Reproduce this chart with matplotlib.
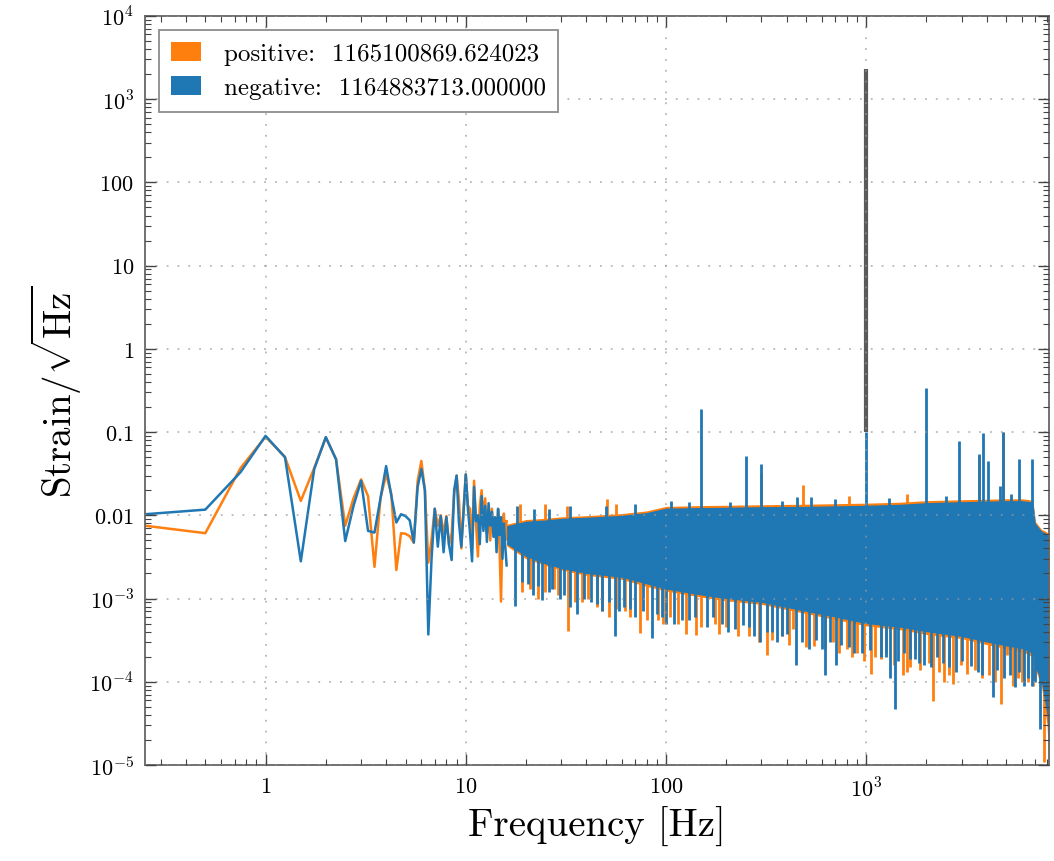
import numpy as np
import matplotlib
matplotlib.use("Agg")
import matplotlib.pyplot as plt
from matplotlib.patches import Patch
from matplotlib.ticker import LogLocator, NullFormatter

# Computer Modern look (gwpy-like style)
plt.rcParams.update({
    "mathtext.fontset": "cm",
    "font.family": "cmr10",
    "axes.unicode_minus": False,
})

# --- data ------------------------------------------------------------------
# low-frequency bins (0.25 Hz spacing), 0.25 .. 16 Hz
freq_low = np.arange(0.25, 16.01, 0.25)

neg_low = [0.0103, 0.0117, 0.033, 0.090, 0.050, 0.0028, 0.036, 0.087,
           0.047, 0.0049, 0.013, 0.026, 0.0065, 0.0062, 0.016, 0.039,
           0.017, 0.0082, 0.0103, 0.0098, 0.0087, 0.0047, 0.022, 0.036,
           0.020, 0.00037, 0.0031, 0.012, 0.0042, 0.0098, 0.0036, 0.0095,
           0.0044, 0.0029, 0.020, 0.030, 0.008, 0.0042, 0.011, 0.031,
           0.012, 0.0062, 0.0028, 0.022, 0.0085, 0.0100, 0.0045, 0.017,
           0.0065, 0.013, 0.0048, 0.014, 0.0075, 0.011, 0.0055, 0.0095,
           0.0036, 0.012, 0.0058, 0.0095, 0.0030, 0.0080, 0.0042, 0.0025]

pos_low = [0.0075, 0.0061, 0.037, 0.088, 0.050, 0.0149, 0.037, 0.086,
           0.047, 0.0075, 0.016, 0.027, 0.017, 0.0024, 0.016, 0.031,
           0.018, 0.0022, 0.0061, 0.0060, 0.0056, 0.0047, 0.026, 0.045,
           0.020, 0.0027, 0.0052, 0.012, 0.0075, 0.010, 0.006, 0.0098,
           0.0044, 0.0060, 0.018, 0.030, 0.015, 0.0040, 0.012, 0.031,
           0.013, 0.012, 0.0040, 0.026, 0.008, 0.0032, 0.013, 0.020,
           0.0085, 0.016, 0.0060, 0.011, 0.0050, 0.012, 0.0070, 0.0085,
           0.0055, 0.0115, 0.0040, 0.00092, 0.0070, 0.0105, 0.0050, 0.0085]

# dense part of the spectrum: envelope of the noise band
band_f = [16, 20, 25, 30, 40, 60, 80, 100, 150, 200, 300, 500, 700, 1000,
          1500, 2000, 3000, 4000, 5000, 6000, 6800, 7000, 7500, 8000, 8192]
neg_top = [0.0075, 0.0085, 0.0088, 0.0092, 0.0095, 0.0100, 0.0108, 0.0122,
           0.0124, 0.0125, 0.0127, 0.0128, 0.0130, 0.0132, 0.0136, 0.0142,
           0.0146, 0.0148, 0.0150, 0.0150, 0.0145, 0.0080, 0.0065, 0.0060,
           0.0055]
neg_bot = [0.0045, 0.0032, 0.0026, 0.0023, 0.0020, 0.0018, 0.0015, 0.0013,
           0.0011, 0.0010, 0.0009, 0.0007, 0.0006, 0.0005, 0.00045, 0.0004,
           0.00035, 0.0003, 0.00027, 0.00025, 0.00022, 0.00015, 0.0001,
           0.00004, 0.000015]
pos_top = [0.0078, 0.0089, 0.0092, 0.0096, 0.0099, 0.0105, 0.0113, 0.0128,
           0.0131, 0.0132, 0.0134, 0.0136, 0.0138, 0.0140, 0.0144, 0.0150,
           0.0154, 0.0156, 0.0158, 0.0158, 0.0152, 0.0084, 0.0068, 0.0063,
           0.0058]
pos_bot = [0.0043, 0.0030, 0.0025, 0.0022, 0.0019, 0.0017, 0.0014, 0.00123,
           0.00104, 0.00094, 0.00085, 0.00066, 0.00056, 0.00047, 0.00042,
           0.00037, 0.00033, 0.00028, 0.00025, 0.00023, 0.0002, 0.00014,
           0.00009, 0.00003, 0.000011]

# spikes sticking out of the band
neg_dn_f = [17.7, 20.5, 21.7, 24, 27, 29.5, 35.9, 42, 48, 55.7,
            62, 66, 84.9, 95, 110, 130, 171, 220, 242, 294,
            340, 380, 446, 520, 620, 706, 820, 950, 1180, 1310,
            1390, 1650, 1830, 2100, 2420, 2800, 3340, 3800, 4300, 4900,
            5520, 6170, 6700, 7400,
            19, 23, 26, 31, 33, 39, 45, 52, 58, 70,
            77, 90, 100, 120, 140, 160, 190, 205, 260, 275,
            320, 360, 400, 480, 560, 600, 660, 750, 870, 1050,
            1250, 1450, 1550, 1750, 1950, 2250, 2600, 3000, 3600, 4500,
            5200, 5800, 6400, 7000]
neg_dn_v = [8.2e-4, 1.5e-3, 1.1e-3, 9.5e-4, 1.3e-3, 1.0e-3, 6.5e-4, 9e-4, 7e-4, 3.5e-4,
            8e-4, 7.5e-4, 3.4e-4, 6e-4, 5e-4, 5.5e-4, 6e-4, 4.3e-4, 4.8e-4, 3.0e-4,
            4e-4, 3.5e-4, 1.6e-4, 2.5e-4, 1.2e-4, 1.6e-4, 2.6e-4, 2.2e-4, 2e-4, 1.1e-4,
            4.7e-5, 1.9e-4, 1.7e-4, 1.5e-4, 1.7e-4, 1.3e-4, 1.56e-4, 1.2e-4, 6.5e-5, 1.1e-4,
            8.6e-5, 9e-5, 9e-5, 2.7e-5,
            1.6e-3, 1.4e-3, 1.2e-3, 1.1e-3, 8e-4, 1.0e-3, 8.5e-4, 9e-4, 7e-4, 6e-4,
            7e-4, 6.5e-4, 5e-4, 5.5e-4, 6e-4, 4.5e-4, 5e-4, 4e-4, 4.5e-4, 3.5e-4,
            4e-4, 3e-4, 3.8e-4, 3e-4, 3.2e-4, 2.5e-4, 3e-4, 2.8e-4, 2.2e-4, 2.4e-4,
            2.0e-4, 1.8e-4, 2.2e-4, 1.9e-4, 1.6e-4, 2.0e-4, 1.5e-4, 1.8e-4, 1.3e-4, 1.4e-4,
            1.2e-4, 1.3e-4, 1.1e-4, 1.0e-4]
pos_dn_f = [19, 23, 27.5, 32.5, 38, 45, 52, 62.5, 74, 91.6,
            105, 126, 141, 175, 200, 260, 318, 380, 432, 550,
            680, 800, 900, 1060, 1110, 1250, 1520, 1590, 1750, 2150,
            2450, 2700, 2970, 3500, 4100, 4700, 5070, 5700, 6400, 7750,
            21, 25, 29, 35, 41, 48, 56, 66, 80, 97,
            115, 150, 185, 230, 290, 340, 410, 500, 620, 730,
            850, 980, 1180, 1380, 1650, 1850, 2050, 2300, 2600, 3200,
            3800, 4400, 5400, 6000, 6800]
pos_dn_v = [1.2e-3, 1.0e-3, 1.3e-3, 4.1e-4, 9e-4, 8e-4, 6e-4, 7e-4, 3.9e-4, 5.5e-4,
            6e-4, 3.8e-4, 3.6e-4, 5e-4, 4.5e-4, 3.5e-4, 2.1e-4, 3.5e-4, 4.3e-4, 2.7e-4,
            3e-4, 2.5e-4, 2.2e-4, 1.24e-4, 2e-4, 2.2e-4, 1.2e-4, 1.3e-4, 2.4e-4, 5.9e-5,
            1e-4, 9.5e-5, 1.6e-4, 1.4e-4, 1.2e-4, 5.4e-5, 2.1e-4, 1.1e-4, 1.0e-4, 1.1e-5,
            1.3e-3, 1.2e-3, 1.1e-3, 9e-4, 1.0e-3, 7e-4, 7.5e-4, 6e-4, 5.5e-4, 5e-4,
            5e-4, 4.5e-4, 3.8e-4, 3.5e-4, 3e-4, 3.2e-4, 2.8e-4, 2.6e-4, 2.5e-4, 2.2e-4,
            2e-4, 1.8e-4, 1.9e-4, 1.6e-4, 1.5e-4, 1.4e-4, 1.7e-4, 1.3e-4, 1.2e-4, 1.25e-4,
            1.1e-4, 1.0e-4, 9e-5, 1.0e-4, 9e-5]
neg_up_f = [18, 22, 26, 33, 50, 106, 150, 250, 300, 450, 530, 1000, 2000,
            2900, 3640, 3850, 4050, 4640, 4800, 5800, 6700,
            70, 130, 210, 380, 700, 1300, 2500, 5300]
neg_up_v = [0.013, 0.012, 0.012, 0.013, 0.013, 0.015, 0.19, 0.051, 0.041,
            0.0165, 0.0165, 0.1, 0.34, 0.079, 0.055, 0.097, 0.045, 0.0225,
            0.10, 0.047, 0.047,
            0.0135, 0.0145, 0.0145, 0.015, 0.0155, 0.016, 0.017, 0.018]
pos_up_f = [18.6, 25, 32, 50.8, 56.6, 300, 484, 3640, 4800, 820, 1600]
pos_up_v = [0.0135, 0.0135, 0.013, 0.0157, 0.0137, 0.032, 0.023, 0.052, 0.10,
            0.017, 0.018]

# calibration line at 1 kHz
line_f = [1000]
line_lo = [0.1]
line_hi = [2300]

labels = ["positive:  1165100869.624023", "negative:  1164883713.000000"]
ytick_vals = [1e-5, 1e-4, 1e-3, 1e-2, 1e-1, 1, 10, 100, 1e3, 1e4]
ytick_labels = [r"$10^{-5}$", r"$10^{-4}$", r"$10^{-3}$", r"$0.01$", r"$0.1$",
                r"$1$", r"$10$", r"$100$", r"$10^{3}$", r"$10^{4}$"]
xtick_vals = [1, 10, 100, 1000]
xtick_labels = [r"$1$", r"$10$", r"$100$", r"$10^{3}$"]

c_pos = "#ff7f0e"
c_neg = "#1f77b4"

fig = plt.figure(figsize=(10.54, 8.62), dpi=100)
ax = fig.add_axes([0.1376, 0.1114, 0.8577, 0.8689])
ax.set_xscale("log")
ax.set_yscale("log")

# positive (orange) first, negative (blue) on top
ax.fill_between(band_f, pos_bot, pos_top, color=c_pos, lw=0, zorder=1.0)
ax.vlines(pos_dn_f, pos_dn_v, 0.004, color=c_pos, lw=2.0, zorder=1.1)
ax.vlines(pos_up_f, 0.006, pos_up_v, color=c_pos, lw=2.0, zorder=1.1)
ax.plot(freq_low, pos_low, color=c_pos, lw=1.8, zorder=1.2)

ax.fill_between(band_f, neg_bot, neg_top, color=c_neg, lw=0, zorder=1.3)
ax.vlines(neg_dn_f, neg_dn_v, 0.004, color=c_neg, lw=2.0, zorder=1.4)
ax.vlines(neg_up_f, 0.006, neg_up_v, color=c_neg, lw=2.0, zorder=1.4)
ax.plot(freq_low, neg_low, color=c_neg, lw=1.8, zorder=1.5)

ax.vlines(line_f, line_lo, line_hi, color="#5a5a5a", lw=3.0, zorder=1.6)

ax.set_xlim(0.25, 8192)
ax.set_ylim(1e-5, 1e4)

ax.set_yticks(ytick_vals)
ax.set_yticklabels(ytick_labels)
ax.set_xticks(xtick_vals)
ax.set_xticklabels(xtick_labels)
ax.yaxis.set_minor_locator(LogLocator(base=10, subs=np.arange(2, 10), numticks=20))
ax.xaxis.set_minor_locator(LogLocator(base=10, subs=np.arange(2, 10), numticks=20))
ax.yaxis.set_minor_formatter(NullFormatter())
ax.xaxis.set_minor_formatter(NullFormatter())

ax.tick_params(which="both", direction="in", top=True, right=True,
               color="#444444", labelsize=16)
ax.tick_params(which="major", length=8, width=1.0, pad=8)
ax.tick_params(which="minor", length=4, width=0.8)
for sp in ax.spines.values():
    sp.set_color("#666666")
    sp.set_linewidth(1.3)

ax.set_axisbelow(False)
ax.grid(True, which="major", linestyle=(0, (1, 5)), color="#9a9a9a",
        alpha=0.7, lw=1.3)

ax.set_xlabel("Frequency [Hz]", fontsize=28, family="cmr10", labelpad=4)
ax.set_ylabel(r"$\mathrm{Strain}/\sqrt{\mathrm{Hz}}$", fontsize=28, labelpad=4)

handles = [Patch(facecolor=c_pos, edgecolor="none", label=labels[0]),
           Patch(facecolor=c_neg, edgecolor="none", label=labels[1])]
leg = ax.legend(handles=handles, loc="upper left", prop={"family": "cmr10", "size": 18},
                fancybox=False, framealpha=1, edgecolor="#8c8c8c",
                handlelength=1.2, handleheight=0.75, handletextpad=0.9,
                borderpad=0.5, borderaxespad=0.55, labelspacing=0.45)
leg.get_frame().set_linewidth(1.3)

fig.savefig("out.png", dpi=100, facecolor="white")
